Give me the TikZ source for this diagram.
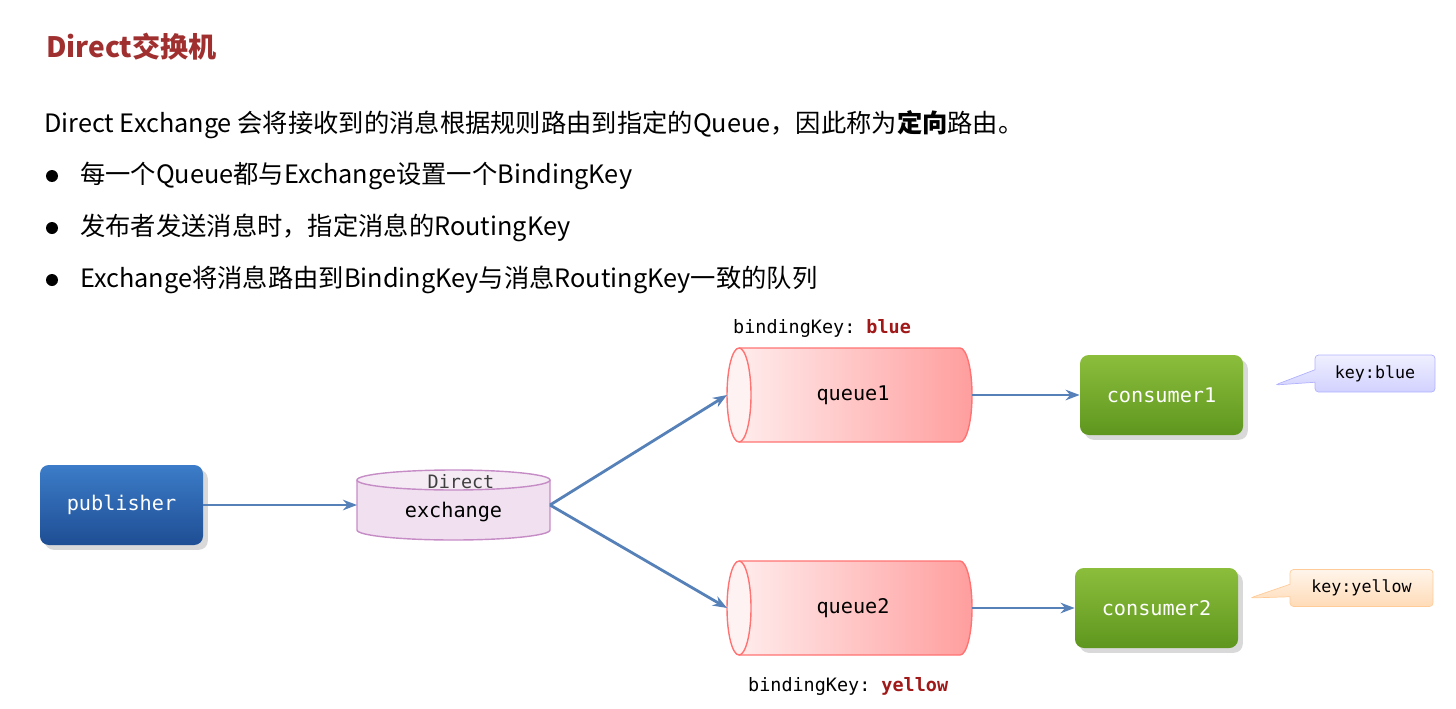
\documentclass[tikz,border=0pt]{standalone}
\usepackage{fontspec}
\setmainfont{Noto Sans CJK SC}
\newfontfamily\cjk{Noto Sans CJK SC}
\setmonofont{DejaVu Sans Mono}
\usetikzlibrary{shapes.callouts,shadows,arrows.meta}
\definecolor{ttl}{HTML}{A03030}
\definecolor{arr}{HTML}{5580B8}
\definecolor{kred}{HTML}{A01818}
\definecolor{gtop}{HTML}{8CBE3C}
\definecolor{gbot}{HTML}{5E961E}
\definecolor{btop}{HTML}{3C7CC8}
\definecolor{bbot}{HTML}{1E4E94}
\tikzset{
  conn/.style={arr,line width=1.6pt,-{Stealth[length=8pt,width=6pt]}},
  greenbox/.style={rounded corners=5pt,top color=gtop,bottom color=gbot,draw=none,text=white,font=\ttfamily\fontsize{11.5}{13}\selectfont,drop shadow={opacity=0.3}},
  bluebox/.style={rounded corners=5pt,top color=btop,bottom color=bbot,draw=none,text=white,font=\ttfamily\fontsize{11.5}{13}\selectfont,drop shadow={opacity=0.3}},
  lbl/.style={font=\ttfamily\fontsize{10.5}{12}\selectfont,anchor=west},
  body/.style={font=\fontsize{14.4}{16}\selectfont,anchor=west},
  anchorbox/.style={inner sep=0,outer sep=0}
}
\begin{document}
\begin{tikzpicture}[x=0.02cm,y=0.02cm]
\useasboundingbox (0,0) rectangle (1456,708);
\node[anchor=west,text=ttl,font=\bfseries\fontsize{16}{18}\selectfont] (title) at (40,661) {Direct交换机};
\node[body] (intro) at (38,583) {Direct Exchange 会将接收到的消息根据规则路由到指定的Queue，因此称为\textbf{定向}路由。};
\fill (52,532) circle (6);
\fill (52,480) circle (6);
\fill (52,428) circle (6);
\node[body] (b1) at (74,532) {每一个Queue都与Exchange设置一个BindingKey};
\node[body] (b2) at (74,480) {发布者发送消息时，指定消息的RoutingKey};
\node[body] (b3) at (74,428) {Exchange将消息路由到BindingKey与消息RoutingKey一致的队列};
% publisher
\node[bluebox,minimum width=163*0.02cm,minimum height=80*0.02cm] (pub) at (121.5,203) {publisher};
% exchange
\fill[violet!12] (357,228) -- (357,178) arc (180:360:96.5 and 10) -- (550,228) -- cycle;
\draw[violet!45,line width=0.8pt] (357,228) -- (357,178) arc (180:360:96.5 and 10) -- (550,228);
\filldraw[fill=violet!8,draw=violet!45,line width=0.8pt] (453.5,228) ellipse (96.5 and 10);
\node[anchorbox,minimum width=193*0.02cm,minimum height=70*0.02cm] (ex) at (453.5,203) {};
\node[font=\ttfamily\fontsize{10.5}{12}\selectfont,text=black!75] (dir) at (461,226) {Direct};
\node[font=\ttfamily\fontsize{11.5}{13}\selectfont] (exl) at (453.5,196) {exchange};
% queues
\foreach \cy/\nm in {313/q1,100/q2}{
  \shade[left color=red!6,right color=red!38] (739,\cy+47) -- (960,\cy+47) arc (90:-90:12 and 47) -- (739,\cy-47) arc (270:90:12 and 47) -- cycle;
  \draw[red!55,line width=0.8pt] (739,\cy+47) -- (960,\cy+47) arc (90:-90:12 and 47) -- (739,\cy-47);
  \draw[red!55,line width=0.8pt,fill=red!5] (739,\cy) ellipse (12 and 47);
  \node[anchorbox,minimum width=245*0.02cm,minimum height=94*0.02cm] (\nm) at (849.5,\cy) {};
}
\node[font=\ttfamily\fontsize{11.5}{13}\selectfont] (q1l) at (853,313) {queue1};
\node[font=\ttfamily\fontsize{11.5}{13}\selectfont] (q2l) at (853,100) {queue2};
\node[lbl] (bk1) at (727,380) {bindingKey: \textbf{\color{kred}blue}};
\node[lbl] (bk2) at (742,22) {bindingKey: \textbf{\color{kred}yellow}};
% consumers
\node[greenbox,minimum width=163*0.02cm,minimum height=80*0.02cm] (c1) at (1161.5,313) {consumer1};
\node[greenbox,minimum width=163*0.02cm,minimum height=80*0.02cm] (c2) at (1156.5,100) {consumer2};
% callouts
\node[rectangle callout,callout absolute pointer={(1275,323)},top color=blue!6,bottom color=blue!18,draw=blue!30,rounded corners=2pt,minimum width=120*0.02cm,minimum height=37*0.02cm,font=\ttfamily\fontsize{9.5}{11}\selectfont] (k1) at (1375,334.5) {key:blue};
\node[rectangle callout,callout absolute pointer={(1250,110)},top color=orange!8,bottom color=orange!28,draw=orange!40,rounded corners=2pt,minimum width=143*0.02cm,minimum height=37*0.02cm,font=\ttfamily\fontsize{9.5}{11}\selectfont] (k2) at (1361.5,120) {key:yellow};
% connectors
\draw[conn] (pub.east) -- (ex.west);
\draw[conn] (ex.east) -- (q1.west);
\draw[conn] (ex.east) -- (q2.west);
\draw[conn] (q1.east) -- (c1.west);
\draw[conn] (q2.east) -- (c2.west);
\end{tikzpicture}
\end{document}
